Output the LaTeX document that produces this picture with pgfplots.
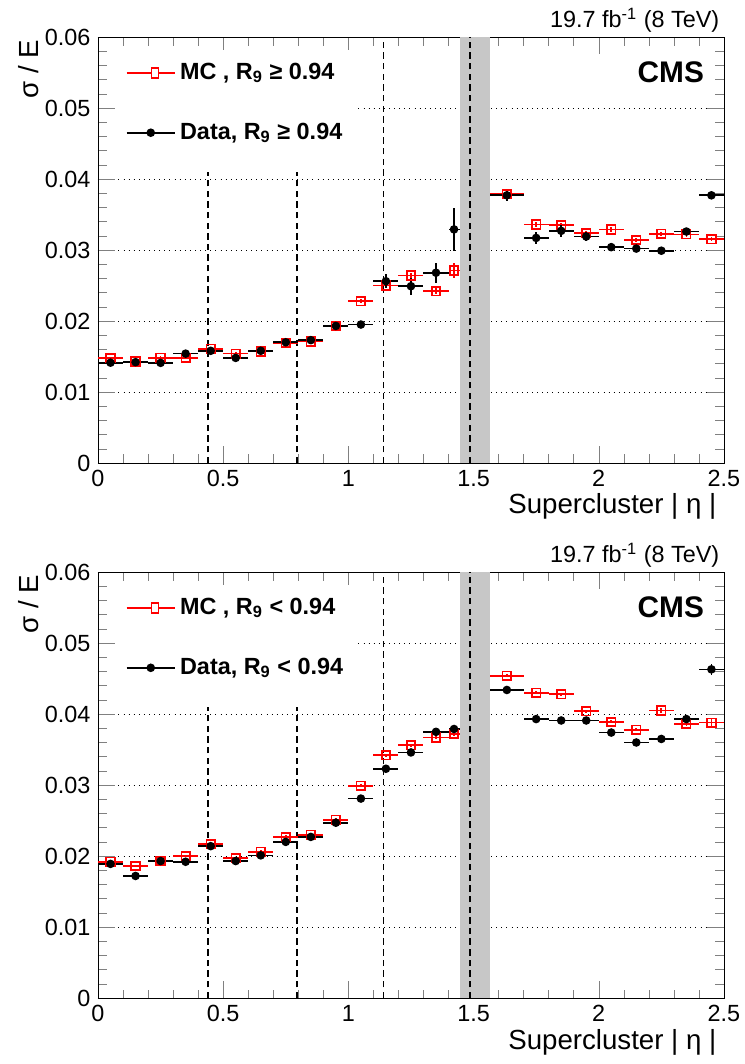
\documentclass[border=0pt]{standalone}
\usepackage{pgfplots}
\pgfplotsset{compat=1.18}
\usepackage{fontspec}
\setmainfont{Liberation Sans}
\pgfplotstableread{
x ex y ey
0.05 0.05 0.01413 0.0003
0.15 0.05 0.0142 0.0003
0.25 0.05 0.0141 0.0003
0.35 0.05 0.0154 0.0003
0.45 0.05 0.0158 0.0003
0.55 0.05 0.0148 0.0003
0.65 0.05 0.0158 0.0003
0.75 0.05 0.0170 0.0003
0.85 0.05 0.0173 0.0003
0.95 0.05 0.0193 0.0004
1.05 0.05 0.0195 0.0005
1.15 0.05 0.0256 0.0010
1.25 0.05 0.0249 0.0012
1.35 0.05 0.0268 0.0014
1.422 0.022 0.0329 0.0030
1.633 0.067 0.0377 0.0008
1.75 0.05 0.0317 0.0008
1.85 0.05 0.0327 0.0008
1.95 0.05 0.0319 0.0006
2.05 0.05 0.0304 0.0005
2.15 0.05 0.0302 0.0005
2.25 0.05 0.0299 0.0005
2.35 0.05 0.0326 0.0005
2.45 0.05 0.0377 0.0005
}\dataA
\pgfplotstableread{
x ex y ey
0.05 0.05 0.01474 0.0002
0.15 0.05 0.0143 0.0002
0.25 0.05 0.0148 0.0002
0.35 0.05 0.0148 0.0002
0.45 0.05 0.0161 0.0002
0.55 0.05 0.0154 0.0002
0.65 0.05 0.0157 0.0002
0.75 0.05 0.0169 0.0002
0.85 0.05 0.0171 0.0002
0.95 0.05 0.0193 0.0002
1.05 0.05 0.0228 0.0003
1.15 0.05 0.0250 0.0003
1.25 0.05 0.0264 0.0004
1.35 0.05 0.0242 0.0004
1.422 0.022 0.0271 0.0010
1.633 0.067 0.0379 0.0003
1.75 0.05 0.0336 0.0003
1.85 0.05 0.0335 0.0003
1.95 0.05 0.0324 0.0003
2.05 0.05 0.0329 0.0003
2.15 0.05 0.0314 0.0003
2.25 0.05 0.0323 0.0003
2.35 0.05 0.0322 0.0003
2.45 0.05 0.0315 0.0003
}\mcA
\pgfplotstableread{
x ex y ey
0.05 0.05 0.0189 0.0003
0.15 0.05 0.0172 0.0003
0.25 0.05 0.0193 0.0002
0.35 0.05 0.0192 0.0002
0.45 0.05 0.0214 0.0003
0.55 0.05 0.0193 0.0002
0.65 0.05 0.0201 0.0002
0.75 0.05 0.0220 0.0002
0.85 0.05 0.0227 0.0002
0.95 0.05 0.0247 0.0002
1.05 0.05 0.0281 0.0002
1.15 0.05 0.0323 0.0003
1.25 0.05 0.0346 0.0003
1.35 0.05 0.0375 0.0003
1.422 0.022 0.0379 0.0005
1.633 0.067 0.0434 0.0003
1.75 0.05 0.0393 0.0003
1.85 0.05 0.0391 0.0003
1.95 0.05 0.0391 0.0003
2.05 0.05 0.0374 0.0004
2.15 0.05 0.0360 0.0004
2.25 0.05 0.0365 0.0004
2.35 0.05 0.0393 0.0005
2.45 0.05 0.0463 0.0008
}\dataB
\pgfplotstableread{
x ex y ey
0.05 0.05 0.0192 0.0002
0.15 0.05 0.0186 0.0002
0.25 0.05 0.0193 0.0002
0.35 0.05 0.0200 0.0002
0.45 0.05 0.0217 0.0002
0.55 0.05 0.0197 0.0002
0.65 0.05 0.0206 0.0002
0.75 0.05 0.0227 0.0002
0.85 0.05 0.0230 0.0002
0.95 0.05 0.0251 0.0002
1.05 0.05 0.0299 0.0002
1.15 0.05 0.0342 0.0002
1.25 0.05 0.0356 0.0002
1.35 0.05 0.0367 0.0002
1.422 0.022 0.0372 0.0003
1.633 0.067 0.0454 0.0002
1.75 0.05 0.0430 0.0002
1.85 0.05 0.0428 0.0002
1.95 0.05 0.0404 0.0002
2.05 0.05 0.0389 0.0002
2.15 0.05 0.0378 0.0002
2.25 0.05 0.0405 0.0003
2.35 0.05 0.0386 0.0003
2.45 0.05 0.0388 0.0005
}\mcB
\pgfplotsset{
  cmsax/.style={
    scale only axis, width=294.2pt, height=200.2pt,
    xmin=0, xmax=2.5, ymin=0, ymax=0.06,
    scaled y ticks=false, scaled x ticks=false,
    xtick={0,0.5,1,1.5,2,2.5}, xticklabels={0,0.5,1,1.5,2,2.5},
    ytick={0,0.01,0.02,0.03,0.04,0.05,0.06}, yticklabels={0,0.01,0.02,0.03,0.04,0.05,0.06},
    minor x tick num=4, minor y tick num=4,
    tick align=inside, tick pos=both,
    major tick length=8pt, minor tick length=4pt,
    ymajorgrids, grid style={black, dotted},
    ticklabel style={font=\fontsize{11}{12}\selectfont},
    xlabel={Supercluster | η |},
    ylabel={σ / E},
    label style={font=\fontsize{13}{14}\selectfont},
    xlabel style={at={(axis description cs:1,0)}, anchor=north east, yshift=-11pt},
    ylabel style={at={(axis description cs:-0.09,1)}, anchor=south east, inner sep=1pt},
    legend style={at={(axis description cs:0.03,0.97)}, anchor=north west, draw=none, fill=white,
      font=\bfseries\fontsize{11}{12}\selectfont, row sep=15pt, inner sep=4pt},
    legend cell align=left,
    clip=false,
  },
  mcst/.style={only marks, red!85!black, thick, mark=square, mark size=2pt, mark options={solid, fill=white, red},
    legend image code/.code={\draw[red,thick](0,0)--(0.8cm,0);\node[draw=red,fill=white,inner sep=1.6pt] at (0.4cm,0){};},
    error bars/.cd, x dir=both, x explicit, y dir=both, y explicit, error bar style={red, thick}, error mark=none},
  dast/.style={only marks, black, thick, mark=*, mark size=1.6pt,
    legend image code/.code={\draw[black,thick](0,0)--(0.8cm,0);\fill (0.4cm,0) circle (1.6pt);},
    error bars/.cd, x dir=both, x explicit, y dir=both, y explicit, error bar style={black, thick}, error mark=none},
}
\newcommand\decor{%
  \fill[black!22] (axis cs:1.4442,0) rectangle (axis cs:1.566,0.06);
  \draw[dash pattern=on 3pt off 2pt, line width=0.8pt] (axis cs:0.44,0) -- (axis cs:0.44,0.041);
  \draw[dash pattern=on 3pt off 2pt, line width=0.8pt] (axis cs:0.795,0) -- (axis cs:0.795,0.041);
  \draw[dash pattern=on 3pt off 2pt, line width=0.8pt] (axis cs:1.14,0) -- (axis cs:1.14,0.06);
  \draw[dash pattern=on 3pt off 2pt, line width=0.8pt] (axis cs:1.485,0) -- (axis cs:1.485,0.06);
  \node[anchor=north east, font=\bfseries\fontsize{14}{15}\selectfont] at (axis description cs:0.98,0.96) {CMS};
  \node[anchor=south east, font=\fontsize{11}{12}\selectfont, inner sep=2pt] at (axis description cs:1,1) {19.7 fb\textsuperscript{-1} (8 TeV)};
}
\begin{document}
\begin{tikzpicture}
\useasboundingbox (0,0) rectangle (349.7pt,-500.1pt);
\begin{axis}[cmsax, at={(46.06pt,-217.6pt)}, anchor=south west]
\decor
\addplot[mcst] table[x=x,y=y,x error=ex,y error=ey]{\mcA};
\addlegendentry{MC , R\textsubscript{9} ≥ 0.94}
\addplot[dast] table[x=x,y=y,x error=ex,y error=ey]{\dataA};
\addlegendentry{Data, R\textsubscript{9} ≥ 0.94}
\end{axis}
\begin{axis}[cmsax, at={(46.06pt,-469.1pt)}, anchor=south west]
\decor
\addplot[mcst] table[x=x,y=y,x error=ex,y error=ey]{\mcB};
\addlegendentry{MC , R\textsubscript{9} < 0.94}
\addplot[dast] table[x=x,y=y,x error=ex,y error=ey]{\dataB};
\addlegendentry{Data, R\textsubscript{9} < 0.94}
\end{axis}
\end{tikzpicture}
\end{document}
